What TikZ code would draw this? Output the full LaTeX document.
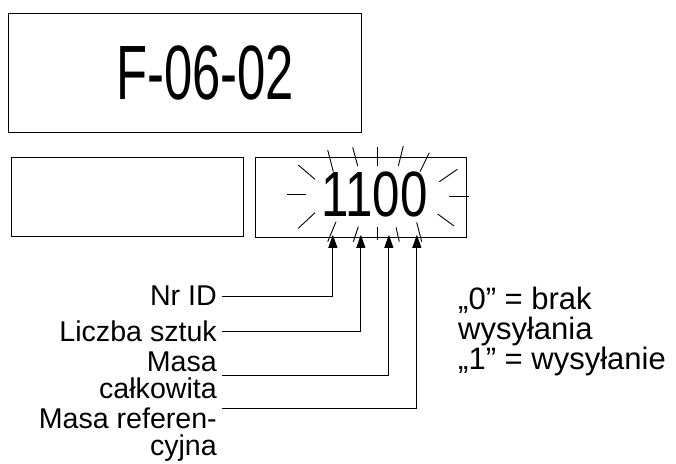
\documentclass[tikz,border=0pt]{standalone}
\usepackage{fontspec}
\setmainfont{Liberation Sans}
\usepackage{graphicx}
\usepackage{tikz}
\usetikzlibrary{arrows.meta, positioning}

\begin{document}
\begin{tikzpicture}[x=1pt, y=-1pt,
        panel/.style={rectangle, draw, line width=1pt, inner sep=0pt},
        desc/.style={inner xsep=5pt, inner ysep=0pt, anchor=north east, align=right, font=\fontsize{28.6}{27}\selectfont},
        note/.style={inner sep=0pt, anchor=north west, align=left, font=\fontsize{31}{30}\selectfont},
        pointer/.style={-{Triangle[length=13pt, width=9pt]}, line width=0.9pt},
        ray/.style={line width=0.9pt}
    ]
    \useasboundingbox (0,0) rectangle (676,463);

    % Displays
    \node[panel, minimum width=353pt, minimum height=119pt] (upper) at (184.5,72.5) {};
    \node[font=\fontsize{77}{77}\selectfont, inner sep=0pt] (code) at (205,72.5) {\scalebox{0.66}[1]{F-06-02}};

    \node[panel, minimum width=231.6pt, minimum height=79.4pt] (lower) at (127.5,197) {};
    \node[panel, minimum width=211.7pt, minimum height=80pt] (disp) at (360.85,197.3) {};
    \node[font=\fontsize{64}{64}\selectfont, inner sep=0pt] (digits) at (374.5,194.5) {\scalebox{0.77}[1]{1100}};

    % Blinking rays
    \foreach \xa/\ya/\xb/\yb in {327.7/150/333.3/171.7, 352.7/147.3/357.7/166, 377.3/147/377.3/166,
            403.3/146/398.3/166, 429.3/152.7/420/171.7,
            298.3/165/315/179.3, 286.7/194.3/306/194.3, 298.3/228.3/315/212.7,
            336/221.7/327.7/241.7, 358.3/226.7/353.3/241.7, 377.3/226.7/377.3/240,
            396/227.3/399.3/241.7, 416.7/222.3/421.7/241.7,
            457.3/169.3/439.3/181.7, 449/196.7/469.3/196.7, 454/226/437.7/214}
        \draw[ray] (\xa,\ya) -- (\xb,\yb);

    % Descriptions
    \node[desc] (nrid) at (222,286) {Nr ID};
    \node[desc] (pieces) at (222,321) {Liczba sztuk};
    \node[desc] (total) at (222,352) {Masa\\całkowita};
    \node[desc] (refmass) at (222,408) {Masa referen-\\cyjna};

    \node[note] (legend) at (458,287) {„0” = brak\\wysyłania\\„1” = wysyłanie};

    % Pointers
    \draw[pointer] (nrid.east) -| ([xshift=-28pt, yshift=3pt]disp.south);
    \draw[pointer] (pieces.east) -| ([yshift=3pt]disp.south);
    \draw[pointer] (total.east) -| ([xshift=28pt, yshift=3pt]disp.south);
    \draw[pointer] (refmass.north east) -| ([xshift=56pt, yshift=3pt]disp.south);

\end{tikzpicture}
\end{document}
